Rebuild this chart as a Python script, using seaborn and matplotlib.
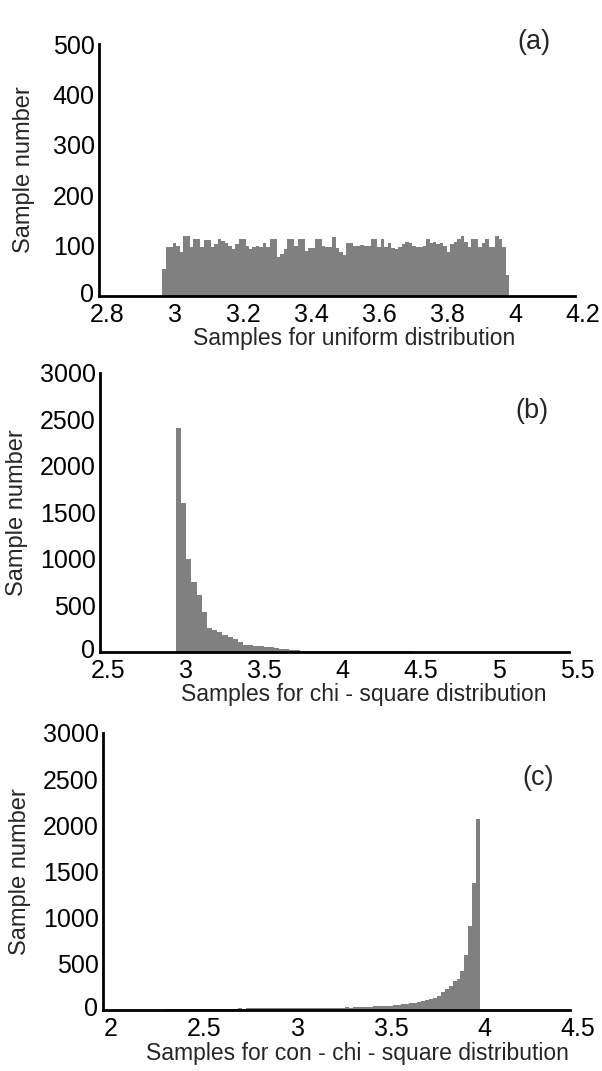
import numpy as np
import pandas as pd
import matplotlib
matplotlib.use("Agg")
import matplotlib.pyplot as plt
import matplotlib.transforms as mtransforms
import seaborn as sns

sns.set_style("white")
plt.rcParams["font.family"] = ["Liberation Sans", "DejaVu Sans"]

# ---- histogram counts per bin ----
uniform_edges = (2.986, 4.007)
uniform_counts = [
    53, 98, 98, 105, 99, 88, 120, 120, 97, 113,
    113, 97, 112, 112, 97, 104, 113, 110, 105, 100,
    93, 103, 114, 114, 100, 93, 97, 100, 98, 105,
    98, 113, 113, 78, 83, 93, 113, 113, 100, 113,
    113, 90, 95, 96, 113, 113, 100, 97, 98, 117,
    95, 88, 82, 105, 105, 100, 100, 101, 99, 100,
    113, 113, 98, 113, 98, 105, 95, 93, 98, 103,
    108, 105, 100, 97, 98, 100, 113, 105, 107, 103,
    105, 100, 88, 103, 107, 113, 120, 107, 97, 113,
    113, 97, 105, 113, 97, 97, 120, 113, 97, 42,
]

chi_edges = (2.986, 5.263)
chi_counts = [
    2405, 1605, 1000, 755, 615, 425, 255, 240, 212, 180,
    160, 135, 105, 75, 72, 68, 62, 55, 50, 44,
    36, 30, 22, 18, 15, 12, 11, 11, 10, 10,
    9, 9, 9, 8, 8, 8, 8, 7, 7, 7,
    7, 6, 6, 6, 6, 6, 5, 5, 5, 5,
    5, 5, 4, 4, 4, 4, 4, 4, 4, 3,
    3, 3, 3, 3, 3, 3, 3, 3, 3,
]

conchi_edges = (2.32, 4.02)
conchi_counts = [
    12, 12, 13, 12, 13, 13, 14, 13, 14, 14,
    14, 15, 14, 15, 15, 16, 15, 16, 16, 17,
    16, 17, 17, 18, 17, 18, 18, 19, 18, 19,
    20, 19, 20, 21, 20, 22, 21, 22, 23, 22,
    22, 23, 24, 24, 25, 26, 36, 22, 30, 36,
    34, 35, 36, 38, 40, 44, 46, 48, 52, 58,
    62, 66, 72, 80, 88, 95, 105, 118, 130, 150,
    200, 225, 265, 310, 335, 420, 600, 910, 1380, 2070,
]

# ---- axis settings ----
panel_tags = ["(a)", "(b)", "(c)"]
x_labels = [
    "Samples for uniform distribution",
    "Samples for chi - square distribution",
    "Samples for con - chi - square distribution",
]
x_ticks = [
    [2.8, 3, 3.2, 3.4, 3.6, 3.8, 4, 4.2],
    [2.5, 3, 3.5, 4, 4.5, 5, 5.5],
    [2, 2.5, 3, 3.5, 4, 4.5],
]
x_tick_text = [
    ["2.8", "3", "3.2", "3.4", "3.6", "3.8", "4", "4.2"],
    ["2.5", "3", "3.5", "4", "4.5", "5", "5.5"],
    ["2", "2.5", "3", "3.5", "4", "4.5"],
]
y_ticks = [
    [0, 100, 200, 300, 400, 500],
    [0, 500, 1000, 1500, 2000, 2500, 3000],
    [0, 500, 1000, 1500, 2000, 2500, 3000],
]

W, H = 602, 1071
fig = plt.figure(figsize=(W / 100, H / 100), dpi=100)

# axes boxes in pixels: left, right, top, bottom
boxes = [
    (99, 575, 44, 296),
    (100, 569, 373, 652),
    (103, 570, 733, 1010),
]
# label placement in pixels
ylabel_right = [35, 28, 31]
xlabel_top = [327, 683, 1042]
xlabel_center = [354, 364, 357]
tag_center = [(534, 42), (532, 411), (538, 778)]

datasets = [
    (uniform_edges, uniform_counts),
    (chi_edges, chi_counts),
    (conchi_edges, conchi_counts),
]

label_shift = mtransforms.ScaledTranslation(8 / 100, 0, fig.dpi_scale_trans)
zero_shift = mtransforms.ScaledTranslation(-1 / 100, 4 / 100, fig.dpi_scale_trans)

for k in range(3):
    l, r, t, b = boxes[k]
    ax = fig.add_axes([l / W, 1 - b / H, (r - l) / W, (b - t) / H])
    (lo, hi), counts = datasets[k]
    edges = np.linspace(lo, hi, len(counts) + 1)
    centers = 0.5 * (edges[:-1] + edges[1:])
    frame = pd.DataFrame({"value": centers, "count": counts})
    sns.histplot(data=frame, x="value", weights="count", bins=edges.tolist(),
                 ax=ax, color="#808080", alpha=1.0, linewidth=0,
                 element="bars")

    ax.set_xlim(x_ticks[k][0], x_ticks[k][-1])
    ax.set_ylim(y_ticks[k][0], y_ticks[k][-1])
    ax.set_xticks(x_ticks[k])
    ax.set_xticklabels(x_tick_text[k])
    ax.set_yticks(y_ticks[k])
    ax.set_yticklabels([str(v) for v in y_ticks[k]])

    for side in ["top", "right"]:
        ax.spines[side].set_visible(False)
    for side in ["left", "bottom"]:
        ax.spines[side].set_linewidth(2.0)
        ax.spines[side].set_color("black")
    ax.tick_params(axis="both", direction="in", length=5, width=2.0,
                   labelsize=18, colors="black")
    ax.tick_params(axis="x", pad=5)
    ax.tick_params(axis="y", pad=3)
    for lab in ax.get_xticklabels():
        lab.set_transform(lab.get_transform() + label_shift)
    # lift the corner "0" so it clears the first x tick label
    zero_lab = ax.get_yticklabels()[0]
    zero_lab.set_transform(zero_lab.get_transform() + zero_shift)

    ax.set_xlabel(x_labels[k], fontsize=16.5)
    ax.set_ylabel("Sample number", fontsize=17)
    ax.xaxis.set_label_coords(xlabel_center[k] / W, 1 - xlabel_top[k] / H,
                              transform=fig.transFigure)
    ax.yaxis.set_label_coords(ylabel_right[k] / W, 1 - (t + b) / 2 / H,
                              transform=fig.transFigure)
    tx, ty = tag_center[k]
    fig.text(tx / W, 1 - ty / H, panel_tags[k], fontsize=19.5,
             ha="center", va="center")

fig.savefig("out.png", dpi=100)
